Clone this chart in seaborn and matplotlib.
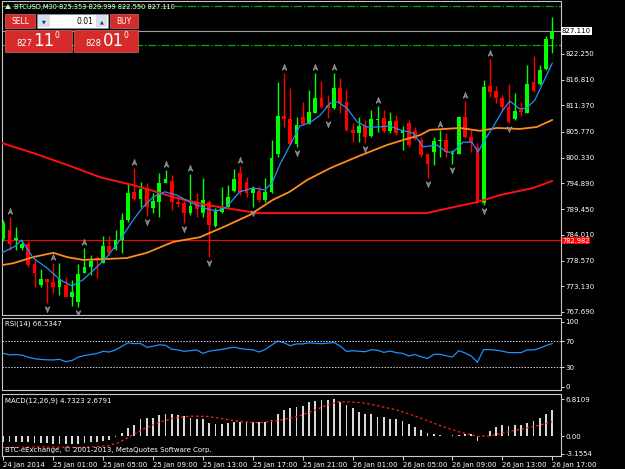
import numpy as np
import matplotlib
matplotlib.use('Agg')
import matplotlib.pyplot as plt
import seaborn as sns
from matplotlib.patches import Rectangle
from matplotlib.path import Path

# BTCUSD M30 candles, 24 Jan 21:00 .. 26 Jan 17:00
opens = [783.12, 785.03, 782.91, 781.22, 782.07, 777.84, 773.40, 774.67, 774.03, 772.97,
         773.40, 770.86, 769.81, 775.94, 777.21, 779.11, 778.05, 781.65, 781.01, 782.91,
         787.14, 793.06, 791.58, 793.91, 789.68, 790.95, 794.97, 795.39, 790.95, 790.74,
         788.62, 790.95, 788.62, 790.95, 785.87, 788.83, 789.89, 793.27, 797.08, 795.18,
         792.85, 793.27, 791.37, 793.06, 801.10, 809.13, 808.50, 803.21, 808.92, 807.44,
         809.77, 812.94, 811.46, 810.83, 815.06, 812.10, 806.17, 805.54, 807.02, 804.90,
         808.29, 808.71, 805.96, 808.08, 805.54, 807.65, 805.96, 804.06, 801.10, 801.52,
         803.85, 804.06, 801.10, 801.10, 808.92, 804.69, 802.58, 790.74, 815.48, 814.42,
         812.94, 811.04, 808.50, 810.40, 809.77, 816.32, 815.90, 819.07, 825.35]
highs = [787.14, 787.78, 785.66, 782.91, 782.70, 778.69, 776.78, 774.67, 778.05, 778.05,
         775.09, 774.46, 777.84, 781.22, 779.74, 779.53, 783.76, 783.76, 785.03, 788.62,
         794.97, 798.14, 795.18, 794.97, 792.85, 797.08, 797.72, 796.66, 792.01, 791.37,
         796.87, 792.85, 796.03, 791.37, 789.68, 794.12, 794.54, 797.90, 798.60, 796.24,
         794.33, 794.33, 796.03, 804.06, 816.32, 818.23, 815.06, 808.92, 812.10, 814.63,
         818.23, 816.54, 813.57, 818.23, 817.17, 814.63, 807.65, 808.92, 808.29, 810.40,
         811.30, 810.40, 809.98, 809.34, 807.02, 808.29, 806.81, 804.69, 801.10, 804.69,
         806.17, 805.54, 801.95, 809.13, 812.31, 806.17, 803.43, 816.75, 821.19, 815.48,
         813.57, 815.90, 814.00, 812.10, 819.92, 821.82, 819.92, 826.05, 830.00]
lows = [782.70, 780.80, 780.80, 780.80, 777.21, 772.97, 772.97, 769.60, 771.71, 771.28,
        770.86, 768.96, 768.75, 775.94, 775.51, 774.88, 778.05, 779.74, 780.80, 780.17,
        786.72, 791.37, 789.89, 788.00, 788.60, 787.78, 794.97, 789.26, 789.89, 786.51,
        788.20, 787.78, 787.78, 779.32, 785.66, 788.62, 789.68, 793.06, 792.43, 792.01,
        789.89, 790.95, 790.95, 792.85, 800.47, 806.81, 803.00, 802.58, 807.23, 807.44,
        809.77, 810.83, 808.71, 810.62, 809.77, 805.96, 803.64, 803.64, 803.43, 804.69,
        805.75, 805.75, 805.54, 805.12, 801.95, 802.58, 804.06, 800.47, 796.03, 798.77,
        800.47, 800.47, 798.99, 801.10, 804.48, 801.52, 790.74, 790.31, 813.15, 811.88,
        810.40, 807.60, 808.29, 809.13, 809.77, 814.21, 815.69, 818.86, 822.55]
closes = [786.51, 782.07, 783.34, 782.07, 777.63, 775.94, 774.67, 774.03, 772.97, 774.67,
          770.86, 771.92, 775.73, 777.21, 778.47, 778.69, 781.65, 780.17, 782.91, 787.14,
          792.85, 791.58, 793.70, 789.89, 791.16, 794.97, 795.81, 790.95, 790.53, 788.62,
          790.10, 789.47, 791.37, 786.08, 789.26, 789.89, 792.01, 795.81, 793.06, 792.85,
          793.91, 791.37, 793.06, 800.26, 809.13, 808.50, 803.21, 807.23, 807.44, 809.98,
          812.94, 811.04, 810.83, 815.06, 811.88, 806.17, 805.54, 807.02, 804.69, 808.50,
          808.55, 805.96, 808.08, 805.54, 806.17, 803.00, 804.27, 800.89, 798.99, 803.85,
          804.06, 801.52, 801.31, 808.92, 804.69, 803.43, 790.95, 815.27, 814.21, 812.94,
          811.04, 807.87, 810.19, 809.98, 815.90, 814.42, 818.86, 825.42, 827.11]

# fractal bars (0-based)
frac_up = [1, 8, 13, 21, 26, 30, 38, 45, 50, 53, 60, 70, 74, 78]
frac_down = [7, 12, 23, 29, 33, 40, 47, 52, 58, 68, 72, 77, 81]

# moving averages, read at points along the lines (bar position, price)
blue_pos = [-0.2, 1.9, 2.9, 4.8, 7.0, 9.1, 11.0, 12.8, 15.0, 16.6, 18.7, 20.8, 22.4, 24.0, 25.9,
            27.8, 29.9, 32.6, 34.2, 35.8, 37.9, 40.0, 41.9, 43.1, 44.3, 45.9, 47.5, 49.1, 50.8,
            52.4, 53.6, 55.1, 56.7, 58.3, 59.9, 62.0, 63.6, 65.7, 67.3, 69.5, 71.1, 72.1, 73.7,
            75.1, 76.1, 77.2, 78.5, 80.1, 81.2, 82.8, 83.9, 85.2, 86.5, 88.0]
blue_val = [780.2, 781.6, 782.9, 779.1, 777.0, 774.5, 773.2, 774.5, 777.2, 779.3, 782.9, 787.1,
            789.9, 792.0, 793.1, 792.4, 790.9, 789.5, 789.0, 789.9, 793.1, 793.9, 793.5, 795.0,
            798.8, 802.8, 807.0, 807.7, 809.3, 811.9, 812.1, 810.8, 807.9, 806.8, 806.8, 807.0,
            806.2, 805.5, 802.6, 803.0, 801.5, 801.5, 803.6, 803.6, 801.5, 804.1, 806.8, 810.4,
            812.3, 810.6, 810.8, 812.5, 816.1, 820.3]
orange_pos = [-0.2, 1.6, 4.8, 8.0, 10.2, 12.8, 16.6, 19.8, 23.0, 27.2, 31.5, 35.2, 39.5, 43.2,
              45.9, 48.7, 52.4, 56.7, 61.5, 64.7, 66.8, 68.4, 73.2, 76.4, 79.1, 82.8, 85.5, 88.0]
orange_val = [777.6, 778.0, 779.3, 780.2, 779.3, 778.7, 778.9, 779.1, 780.2, 782.5, 783.5, 785.6,
              788.2, 791.4, 793.1, 795.6, 798.1, 800.5, 803.0, 804.3, 805.1, 806.2, 806.6, 806.0,
              806.6, 806.4, 806.8, 808.3]
red_pos = [-0.2, 4.8, 10.2, 15.5, 20.8, 23.5, 27.2, 32.6, 37.9, 40.7, 45.9, 65.7, 67.9, 71.6,
           75.9, 79.6, 84.9, 88.0]
red_val = [803.4, 801.3, 798.8, 796.2, 794.5, 793.5, 792.0, 790.3, 789.2, 788.6, 788.6, 788.6,
           788.6, 789.7, 790.9, 792.4, 793.9, 795.4]

rsi = [51.5, 49.2, 49.7, 48.9, 45.5, 43.4, 42.3, 41.6, 41.5, 42.4,
       38.9, 40.5, 45.6, 48.2, 49.7, 51.4, 54.6, 53.6, 56.9, 62.3,
       67.7, 66.5, 66.7, 60.8, 62.4, 64.6, 63.9, 57.9, 56.8, 54.7,
       55.7, 56.7, 51.5, 54.9, 56.3, 57.5, 59.3, 61.1, 58.8, 57.7,
       57.0, 53.7, 57.5, 64.2, 70.4, 67.8, 63.2, 66.0, 66.0, 67.7,
       67.0, 66.3, 67.2, 68.1, 62.7, 54.6, 55.5, 54.8, 54.0, 57.1,
       56.3, 53.0, 55.1, 52.7, 51.5, 47.5, 49.7, 46.4, 43.6, 50.0,
       50.1, 47.8, 46.0, 55.7, 52.3, 47.5, 38.0, 57.3, 57.3, 56.4,
       54.9, 52.7, 52.7, 52.7, 56.8, 56.8, 59.5, 63.4, 66.53]

macd = [-1.1, -1.1, -1.1, -1.1, -1.1, -1.2, -1.2, -1.2, -1.3, -1.3,
        -1.3, -1.3, -1.3, -1.2, -1.1, -1.0, -0.9, -0.7, -0.2, 0.7,
        1.5, 2.1, 3.2, 3.3, 3.4, 3.9, 4.1, 4.1, 3.9, 3.7,
        3.3, 3.2, 3.2, 2.4, 2.3, 2.3, 2.4, 2.7, 2.7, 2.7,
        2.7, 2.7, 2.7, 3.0, 4.1, 4.9, 5.1, 5.4, 5.6, 6.3,
        6.4, 6.6, 6.6, 6.81, 6.2, 5.8, 5.1, 4.5, 4.1, 4.0,
        3.5, 3.5, 3.2, 3.1, 2.9, 2.3, 1.7, 1.2, 0.6, 0.4,
        0.25, 0.1, 0.25, 0.25, 0.4, 0.5, -0.8, 0.1, 1.0, 1.7,
        2.0, 1.9, 2.0, 2.1, 2.4, 2.9, 3.4, 4.0, 4.73]
sig_pos = [-0.2, 5.9, 12.2, 16.7, 18.6, 20.5, 22.5, 25.0, 27.6, 30.1, 32.7, 35.2, 37.8, 41.0,
           44.2, 47.4, 49.9, 51.8, 53.7, 55.7, 57.6, 60.1, 63.3, 66.5, 69.7, 72.9, 76.1, 78.0,
           80.6, 83.1, 85.7, 88.0]
sig_val = [-2.04, -1.92, -2.04, -1.73, -1.11, 0.12, 1.36, 2.6, 3.4, 3.71, 3.65, 3.22, 2.72,
           2.48, 2.91, 3.71, 4.77, 5.69, 6.31, 6.31, 6.13, 5.57, 4.77, 3.53, 2.11, 0.87, 0.0,
           0.12, 0.74, 1.36, 1.98, 2.68]

price_ticks = [822.25, 816.81, 811.37, 805.77, 800.33, 794.89, 789.45, 784.01, 778.57, 773.13, 767.69]
time_labels = ['24 Jan 2014', '25 Jan 01:00', '25 Jan 05:00', '25 Jan 09:00', '25 Jan 13:00',
               '25 Jan 17:00', '25 Jan 21:00', '26 Jan 01:00', '26 Jan 05:00', '26 Jan 09:00',
               '26 Jan 13:00', '26 Jan 17:00']

sns.set_theme(style='dark', rc={'axes.facecolor': 'black', 'figure.facecolor': 'black',
                                'axes.edgecolor': '#c8c8c8', 'axes.grid': False})
plt.rcParams['font.family'] = ['DejaVu Sans']

W, H = 625, 469
fig = plt.figure(figsize=(W / 100, H / 100), dpi=100)
fig.patch.set_facecolor('black')


def px_rect(x0, y0, x1, y1):
    return [x0 / W, 1 - y1 / H, (x1 - x0) / W, (y1 - y0) / H]


def ftext(x, y, s, **kw):
    kw.setdefault('color', 'white')
    kw.setdefault('fontsize', 5)
    kw.setdefault('va', 'center')
    return fig.text(x / W, 1 - y / H, s, **kw)


def fbox(x0, y0, x1, y1, **kw):
    fig.add_artist(Rectangle((x0 / W, 1 - y1 / H), (x1 - x0) / W, (y1 - y0) / H,
                             transform=fig.transFigure, **kw))


ax = fig.add_axes(px_rect(2, 1, 561, 315))
ax_rsi = fig.add_axes(px_rect(2, 318, 561, 390))
ax_macd = fig.add_axes(px_rect(2, 394, 561, 456))

xlim = (-0.21, 89.4)
for a in (ax, ax_rsi, ax_macd):
    a.set_facecolor('black')
    a.set_xlim(*xlim)
    for s in a.spines.values():
        s.set_color('#c8c8c8')
        s.set_linewidth(0.8)
    a.yaxis.tick_right()
    a.tick_params(axis='y', colors='white', labelsize=5, length=2, width=0.6, pad=1)
    a.tick_params(axis='x', bottom=False, labelbottom=False)

# ---- main price panel
o = np.array(opens); h = np.array(highs); l = np.array(lows); c = np.array(closes)
x = np.arange(len(o))
col = np.where(c >= o, '#00ff00', '#ff0000')

ax.axhline(832.46, color='#00b000', lw=0.9, ls='-.', zorder=1)
ax.axhline(824.15, color='#00b000', lw=0.9, ls='-.', zorder=1)
ax.axhline(827.11, color='#a0a0a0', lw=0.8, zorder=1)
ax.axhline(782.982, color='#ff0000', lw=0.8, zorder=1)

ax.vlines(x, l, h, colors=col, lw=1.0, zorder=2)
ax.bar(x, np.maximum(np.abs(c - o), 0.15), bottom=np.minimum(o, c), width=0.6,
       color=col, lw=0, zorder=3)

sns.lineplot(x=red_pos, y=red_val, ax=ax, color='#ff1010', lw=1.4, zorder=4)
sns.lineplot(x=orange_pos, y=orange_val, ax=ax, color='#ff8c1a', lw=1.3, zorder=4)
sns.lineplot(x=blue_pos, y=blue_val, ax=ax, color='#1e90ff', lw=0.9, zorder=5)

arrow = Path([(0, 1), (0.75, -0.9), (0, -0.35), (-0.75, -0.9), (0, 1)],
             [Path.MOVETO, Path.LINETO, Path.LINETO, Path.LINETO, Path.CLOSEPOLY])
arrow_dn = Path([(0, -1), (0.75, 0.9), (0, 0.35), (-0.75, 0.9), (0, -1)],
                [Path.MOVETO, Path.LINETO, Path.LINETO, Path.LINETO, Path.CLOSEPOLY])
ax.plot(frac_up, h[frac_up] + 1.3, ls='none', marker=arrow, ms=4.6,
        mfc='#7c7c7c', mec='#a8a8a8', mew=0.4, zorder=6)
ax.plot(frac_down, l[frac_down] - 1.3, ls='none', marker=arrow_dn, ms=4.6,
        mfc='#7c7c7c', mec='#a8a8a8', mew=0.4, zorder=6)

ax.set_ylim(767.05, 833.45)
ax.set_yticks(price_ticks)
ax.set_yticklabels([f'{v:.3f}' for v in price_ticks])
ax.set_xlabel('')
ax.set_ylabel('')

# ---- RSI panel
sns.lineplot(x=x, y=rsi, ax=ax_rsi, color='#1e90ff', lw=0.9)
for lev in (70, 30):
    ax_rsi.axhline(lev, color='#d0d0d0', lw=0.7, ls=(0, (1.5, 1.5)))
ax_rsi.set_ylim(-4.6, 105.7)
ax_rsi.set_yticks([100, 70, 30, 0])
ax_rsi.set_yticklabels(['100', '70', '30', '0'])
ax_rsi.set_ylabel('')

# ---- MACD panel
ax_macd.bar(x, macd, width=0.28, color='#d8d8d8', lw=0)
sns.lineplot(x=sig_pos, y=sig_val, ax=ax_macd, color='#ff2020', lw=0.9, linestyle=(0, (2, 2)))
ax_macd.set_ylim(-3.58, 7.74)
ax_macd.set_yticks([6.8109, 0, -3.1554])
ax_macd.set_yticklabels(['6.8109', '0.00', '-3.1554'])
ax_macd.set_ylabel('')
ax_macd.set_xticks(np.arange(0, 89, 8))
ax_macd.set_xticklabels(time_labels, ha='left')
ax_macd.tick_params(axis='x', bottom=True, labelbottom=True, colors='white', labelsize=5,
                    length=3, width=0.6, pad=1)
for a in (ax, ax_rsi):
    a.set_xticks([])

# ---- texts
ftext(14, 7, 'BTCUSD,M30 825.353 829.999 822.550 827.110', ha='left', fontsize=4.8)
fig.add_artist(plt.Polygon([[5 / W, 1 - 9 / H], [11 / W, 1 - 9 / H], [8 / W, 1 - 4 / H]],
                           closed=True, transform=fig.transFigure, fc='#e0e0e0', ec='none'))
ftext(5, 324, 'RSI(14) 66.5347', ha='left')
ftext(5, 401, 'MACD(12,26,9) 4.7323 2.6791', ha='left')
ftext(5, 450, 'BTC-eExchange, \u00a9 2001-2013, MetaQuotes Software Corp.', ha='left', zorder=6)

# price markers on the right scale
ftext(562, 31, '827.110', ha='left', color='black',
      bbox=dict(boxstyle='square,pad=0.1', fc='white', ec='none'))
ftext(562, 240.5, '782.982', ha='left', color='white', fontsize=4.8,
      bbox=dict(boxstyle='square,pad=0.05', fc='#ff0000', ec='none'))

# ---- one-click trading panel
red = '#d62b2b'
fbox(5, 14, 35, 28, fc=red, ec='#f08080', lw=0.4, zorder=7)
fbox(110, 14, 138, 28, fc=red, ec='#f08080', lw=0.4, zorder=7)
fbox(37, 14, 108, 28, fc='white', ec='#7f9db9', lw=0.4, zorder=7)
fbox(38, 15, 50, 27, fc='#d6def0', ec='none', zorder=8)
fbox(96, 15, 107, 27, fc='#d6def0', ec='none', zorder=8)
fbox(5, 30, 72, 52, fc=red, ec='#f08080', lw=0.4, zorder=7)
fbox(74, 30, 138, 52, fc=red, ec='#f08080', lw=0.4, zorder=7)
ftext(20, 21.5, 'SELL', ha='center', fontsize=5.5, zorder=9)
ftext(124, 21.5, 'BUY', ha='center', fontsize=5.5, zorder=9)
ftext(44, 21.5, '\u25bc', ha='center', fontsize=3.5, color='#203060', zorder=9)
ftext(101.5, 21.5, '\u25b2', ha='center', fontsize=3.5, color='#203060', zorder=9)
ftext(93, 21.5, '0.01', ha='right', fontsize=5.5, color='black', zorder=9)
ftext(24.5, 44, '827', ha='center', fontsize=6, zorder=9)
ftext(44, 41, '11', ha='center', fontsize=12, zorder=9)
ftext(57, 36, '0', ha='center', fontsize=5.5, zorder=9)
ftext(93, 44, '828', ha='center', fontsize=6, zorder=9)
ftext(113, 41, '01', ha='center', fontsize=12, zorder=9)
ftext(126, 36, '0', ha='center', fontsize=5.5, zorder=9)

fig.savefig('out.png', dpi=100, facecolor='black')
